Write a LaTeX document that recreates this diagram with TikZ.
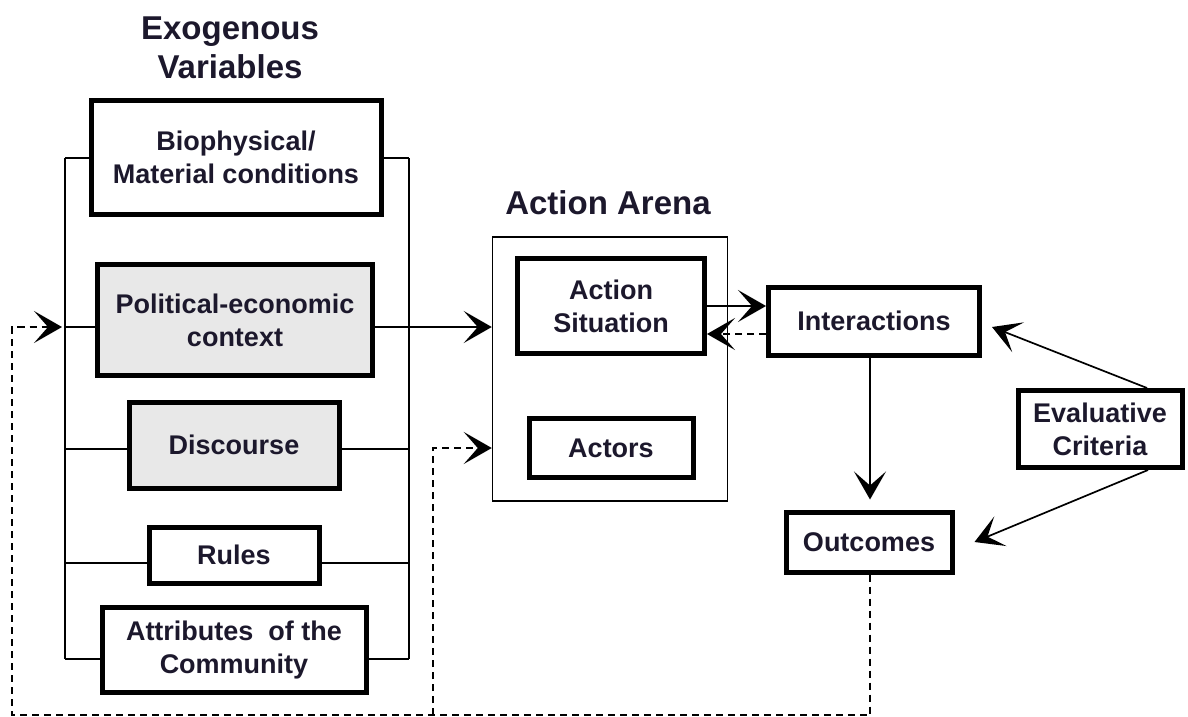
\documentclass[tikz,border=0pt]{standalone}
\usepackage{fontspec}
\setmainfont{Liberation Sans}
\usetikzlibrary{arrows.meta}
\definecolor{inkdark}{RGB}{28,24,44}
\definecolor{boxgray}{RGB}{232,232,232}

\begin{document}
\begin{tikzpicture}[x=1pt, y=-1pt,
		box/.style={draw=black, line width=5pt, align=center, inner sep=0pt, text=inkdark,
			font=\fontsize{27}{33}\selectfont\bfseries},
		greybox/.style={box, fill=boxgray},
		heading/.style={align=center, text=inkdark, font=\fontsize{33}{39}\selectfont\bfseries},
		bar/.style={line width=1.7pt},
		arr/.style={line width=1.7pt, -{Stealth[length=28pt,width=32pt,inset=14pt]}},
		fbk/.style={arr, dash pattern=on 7pt off 5pt}]
		%%%%% START %%%%%
		
		\useasboundingbox (0, 0) rectangle (1188, 717);
		
		% exogenous variables
		\node[heading] (exo) at (230, 48) {Exogenous\\Variables};
		\node[box, minimum width=290, minimum height=114] (bio) at (236, 157) {Biophysical/\\Material conditions};
		\node[greybox, minimum width=275, minimum height=111] (polit) at (235, 320) {Political-economic\\context};
		\node[greybox, minimum width=210, minimum height=86] (disc) at (234, 445) {Discourse};
		\node[box, minimum width=170, minimum height=56] (rules) at (234, 555) {Rules};
		\node[box, minimum width=264, minimum height=85] (attr) at (234, 650) {Attributes~ of the\\Community};
		
		\coordinate (ltop) at (65, 158);
		\coordinate (lbot) at (65, 659);
		\coordinate (rtop) at (409, 158);
		\coordinate (rbot) at (409, 659);
		\draw[bar] (ltop) -- (lbot);
		\draw[bar] (rtop) -- (rbot);
		\foreach \n/\y in {bio/158, polit/327, disc/449, rules/563, attr/659} {
			\draw[bar] (65, \y) -- (\n.west |- 0, \y);
			\draw[bar] (\n.east |- 0, \y) -- (409, \y);
		}
		
		% action arena
		\node[heading] (arenatitle) at (608, 203) {Action Arena};
		\node[draw, line width=1.5pt, minimum width=235, minimum height=264] (arena) at (610, 369) {};
		\node[box, minimum width=187, minimum height=95] (sit) at (611, 306) {Action\\Situation};
		\node[box, minimum width=164, minimum height=59] (actors) at (611, 448) {Actors};
		
		% interactions and outcomes
		\node[box, minimum width=211, minimum height=68] (inter) at (874, 321) {Interactions};
		\node[box, minimum width=166, minimum height=60] (outc) at (869, 542) {Outcomes};
		\node[box, minimum width=164, minimum height=77] (eval) at (1100, 429) {Evaluative\\Criteria};
		
		\draw[arr] (rtop |- 0, 327) -- (arena.west |- 0, 327);
		\draw[arr] (sit.east) -- (inter.west |- sit.east);
		\draw[fbk] ([yshift=-28pt]inter.west |- sit.east) -- ([yshift=-28pt]sit.east);
		\draw[arr, shorten >=10pt] (inter.south -| 870, 0) -- (outc.north -| 870, 0);
		\draw[arr] ([xshift=47pt]eval.north) -- ([shift={(10pt,-6pt)}]inter.east);
		\draw[arr] ([xshift=48pt]eval.south) -- ([xshift=20pt]outc.east);
		
		% feedback loops
		\coordinate (fbl) at (12, 715);
		\coordinate (fbm) at (433, 715);
		\draw[fbk] (outc.south -| 870, 0) |- (fbl) |- (62, 327);
		\draw[fbk] (fbm) |- (arena.west |- actors);
		
		%%%%% END %%%%%
	\end{tikzpicture}
\end{document}
